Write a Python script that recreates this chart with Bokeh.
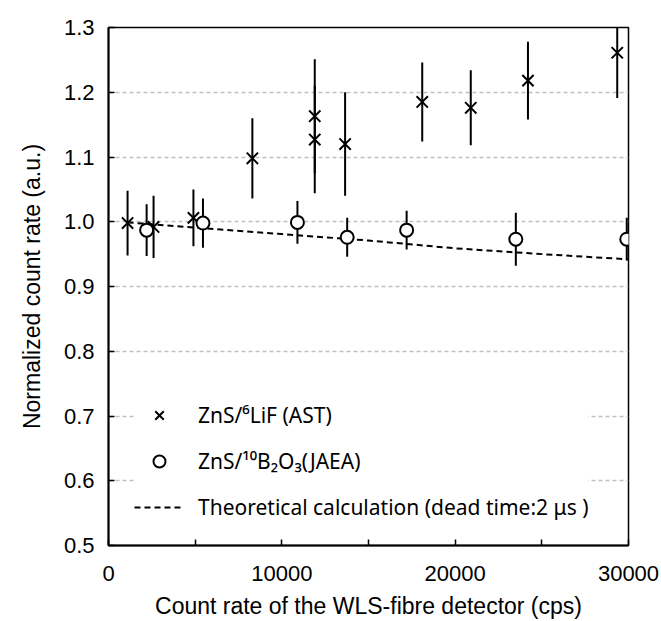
from bokeh.plotting import figure
from bokeh.models import Range1d, FixedTicker, Legend, LegendItem
from bokeh.embed import file_html
from bokeh.resources import INLINE

# ZnS/6LiF (AST)
lif_x = [1100, 2600, 4900, 8300, 11900, 11900, 13650, 18100, 20900, 24200, 29350]
lif_y = [0.998, 0.992, 1.006, 1.098, 1.163, 1.127, 1.120, 1.185, 1.176, 1.218, 1.261]
lif_err = [0.050, 0.048, 0.044, 0.062, 0.088, 0.083, 0.080, 0.061, 0.058, 0.060, 0.070]

# ZnS/10B2O3 (JAEA)
bo_x = [2200, 5450, 10900, 13770, 17200, 23500, 29900]
bo_y = [0.987, 0.998, 0.999, 0.976, 0.987, 0.973, 0.973]
bo_err = [0.040, 0.038, 0.033, 0.030, 0.030, 0.041, 0.033]

# Theoretical calculation (dead time 2 us)
th_x = [1100, 5000, 10000, 15000, 20000, 25000, 30000]
th_y = [0.999, 0.991, 0.981, 0.971, 0.959, 0.950, 0.942]

x_ticks = [0, 5000, 10000, 15000, 20000, 25000, 30000]
x_tick_labels = ["0", "", "10000", "", "20000", "", "30000"]
y_ticks = [0.5, 0.6, 0.7, 0.8, 0.9, 1.0, 1.1, 1.2, 1.3]
y_tick_labels = ["0.5", "0.6", "0.7", "0.8", "0.9", "1.0", "1.1", "1.2", "1.3"]

FONT = "Liberation Sans"

p = figure(width=661, height=621, x_range=Range1d(0, 30000), y_range=Range1d(0.5, 1.3),
           output_backend="svg", toolbar_location=None,
           min_border_left=108, min_border_right=33, min_border_top=27, min_border_bottom=76)

p.background_fill_color = "white"
p.outline_line_color = "black"
p.outline_line_width = 1.5

p.xgrid.visible = False
p.ygrid.ticker = FixedTicker(ticks=y_ticks)
p.ygrid.grid_line_color = "#c0c0c0"
p.ygrid.grid_line_dash = "4 3"
p.ygrid.grid_line_width = 1.5

for ax in (p.xaxis, p.yaxis):
    ax.axis_line_color = "black"
    ax.axis_line_width = 2
    ax.major_tick_line_color = "black"
    ax.major_tick_line_width = 1.5
    ax.major_tick_in = 6
    ax.major_tick_out = 0
    ax.minor_tick_line_color = None
    ax.major_label_text_font = FONT
    ax.major_label_text_font_size = "22px"
    ax.major_label_text_color = "black"
    ax.axis_label_text_font = FONT
    ax.axis_label_text_font_size = "23px"
    ax.axis_label_text_font_style = "normal"
    ax.axis_label_text_color = "black"

p.xaxis.ticker = FixedTicker(ticks=x_ticks)
p.xaxis.major_label_overrides = {t: l for t, l in zip(x_ticks, x_tick_labels)}
p.xaxis.major_label_standoff = 20
p.xaxis.axis_label_standoff = 9
p.xaxis.axis_label = "Count rate of the WLS-fibre detector (cps)"

p.yaxis.ticker = FixedTicker(ticks=y_ticks)
p.yaxis.major_label_overrides = {t: l for t, l in zip(y_ticks, y_tick_labels)}
p.yaxis.major_label_standoff = 14
p.yaxis.axis_label_standoff = 16
p.yaxis.axis_label = "Normalized count rate (a.u.)"

# error bars
p.segment(x0=lif_x, y0=[y - e for y, e in zip(lif_y, lif_err)],
          x1=lif_x, y1=[y + e for y, e in zip(lif_y, lif_err)],
          line_color="black", line_width=2)
p.segment(x0=bo_x, y0=[y - e for y, e in zip(bo_y, bo_err)],
          x1=bo_x, y1=[y + e for y, e in zip(bo_y, bo_err)],
          line_color="black", line_width=2)

r_th = p.line(th_x, th_y, line_color="black", line_width=2, line_dash="6 4")
r_lif = p.scatter(lif_x, lif_y, marker="x", size=16, line_color="black", line_width=2)
r_bo = p.scatter(bo_x, bo_y, marker="circle", size=13, line_color="black",
                 line_width=2, fill_color="white")

legend = Legend(items=[
    LegendItem(label="ZnS/\u2076LiF (AST)", renderers=[r_lif]),
    LegendItem(label="ZnS/\u00b9\u2070B\u2082O\u2083(JAEA)", renderers=[r_bo]),
    LegendItem(label="Theoretical calculation (dead time:2 \u03bcs )", renderers=[r_th]),
], location=(26, 23))
legend.background_fill_color = "white"
legend.background_fill_alpha = 1.0
legend.border_line_color = None
legend.label_text_font = "Noto Sans"
legend.label_text_font_size = "21px"
legend.label_text_color = "black"
legend.glyph_width = 50
legend.glyph_height = 30
legend.label_height = 30
legend.spacing = 16
legend.padding = 12
legend.margin = 0
legend.label_standoff = 14
p.add_layout(legend)

open("out.html", "w").write(file_html(p, INLINE))
